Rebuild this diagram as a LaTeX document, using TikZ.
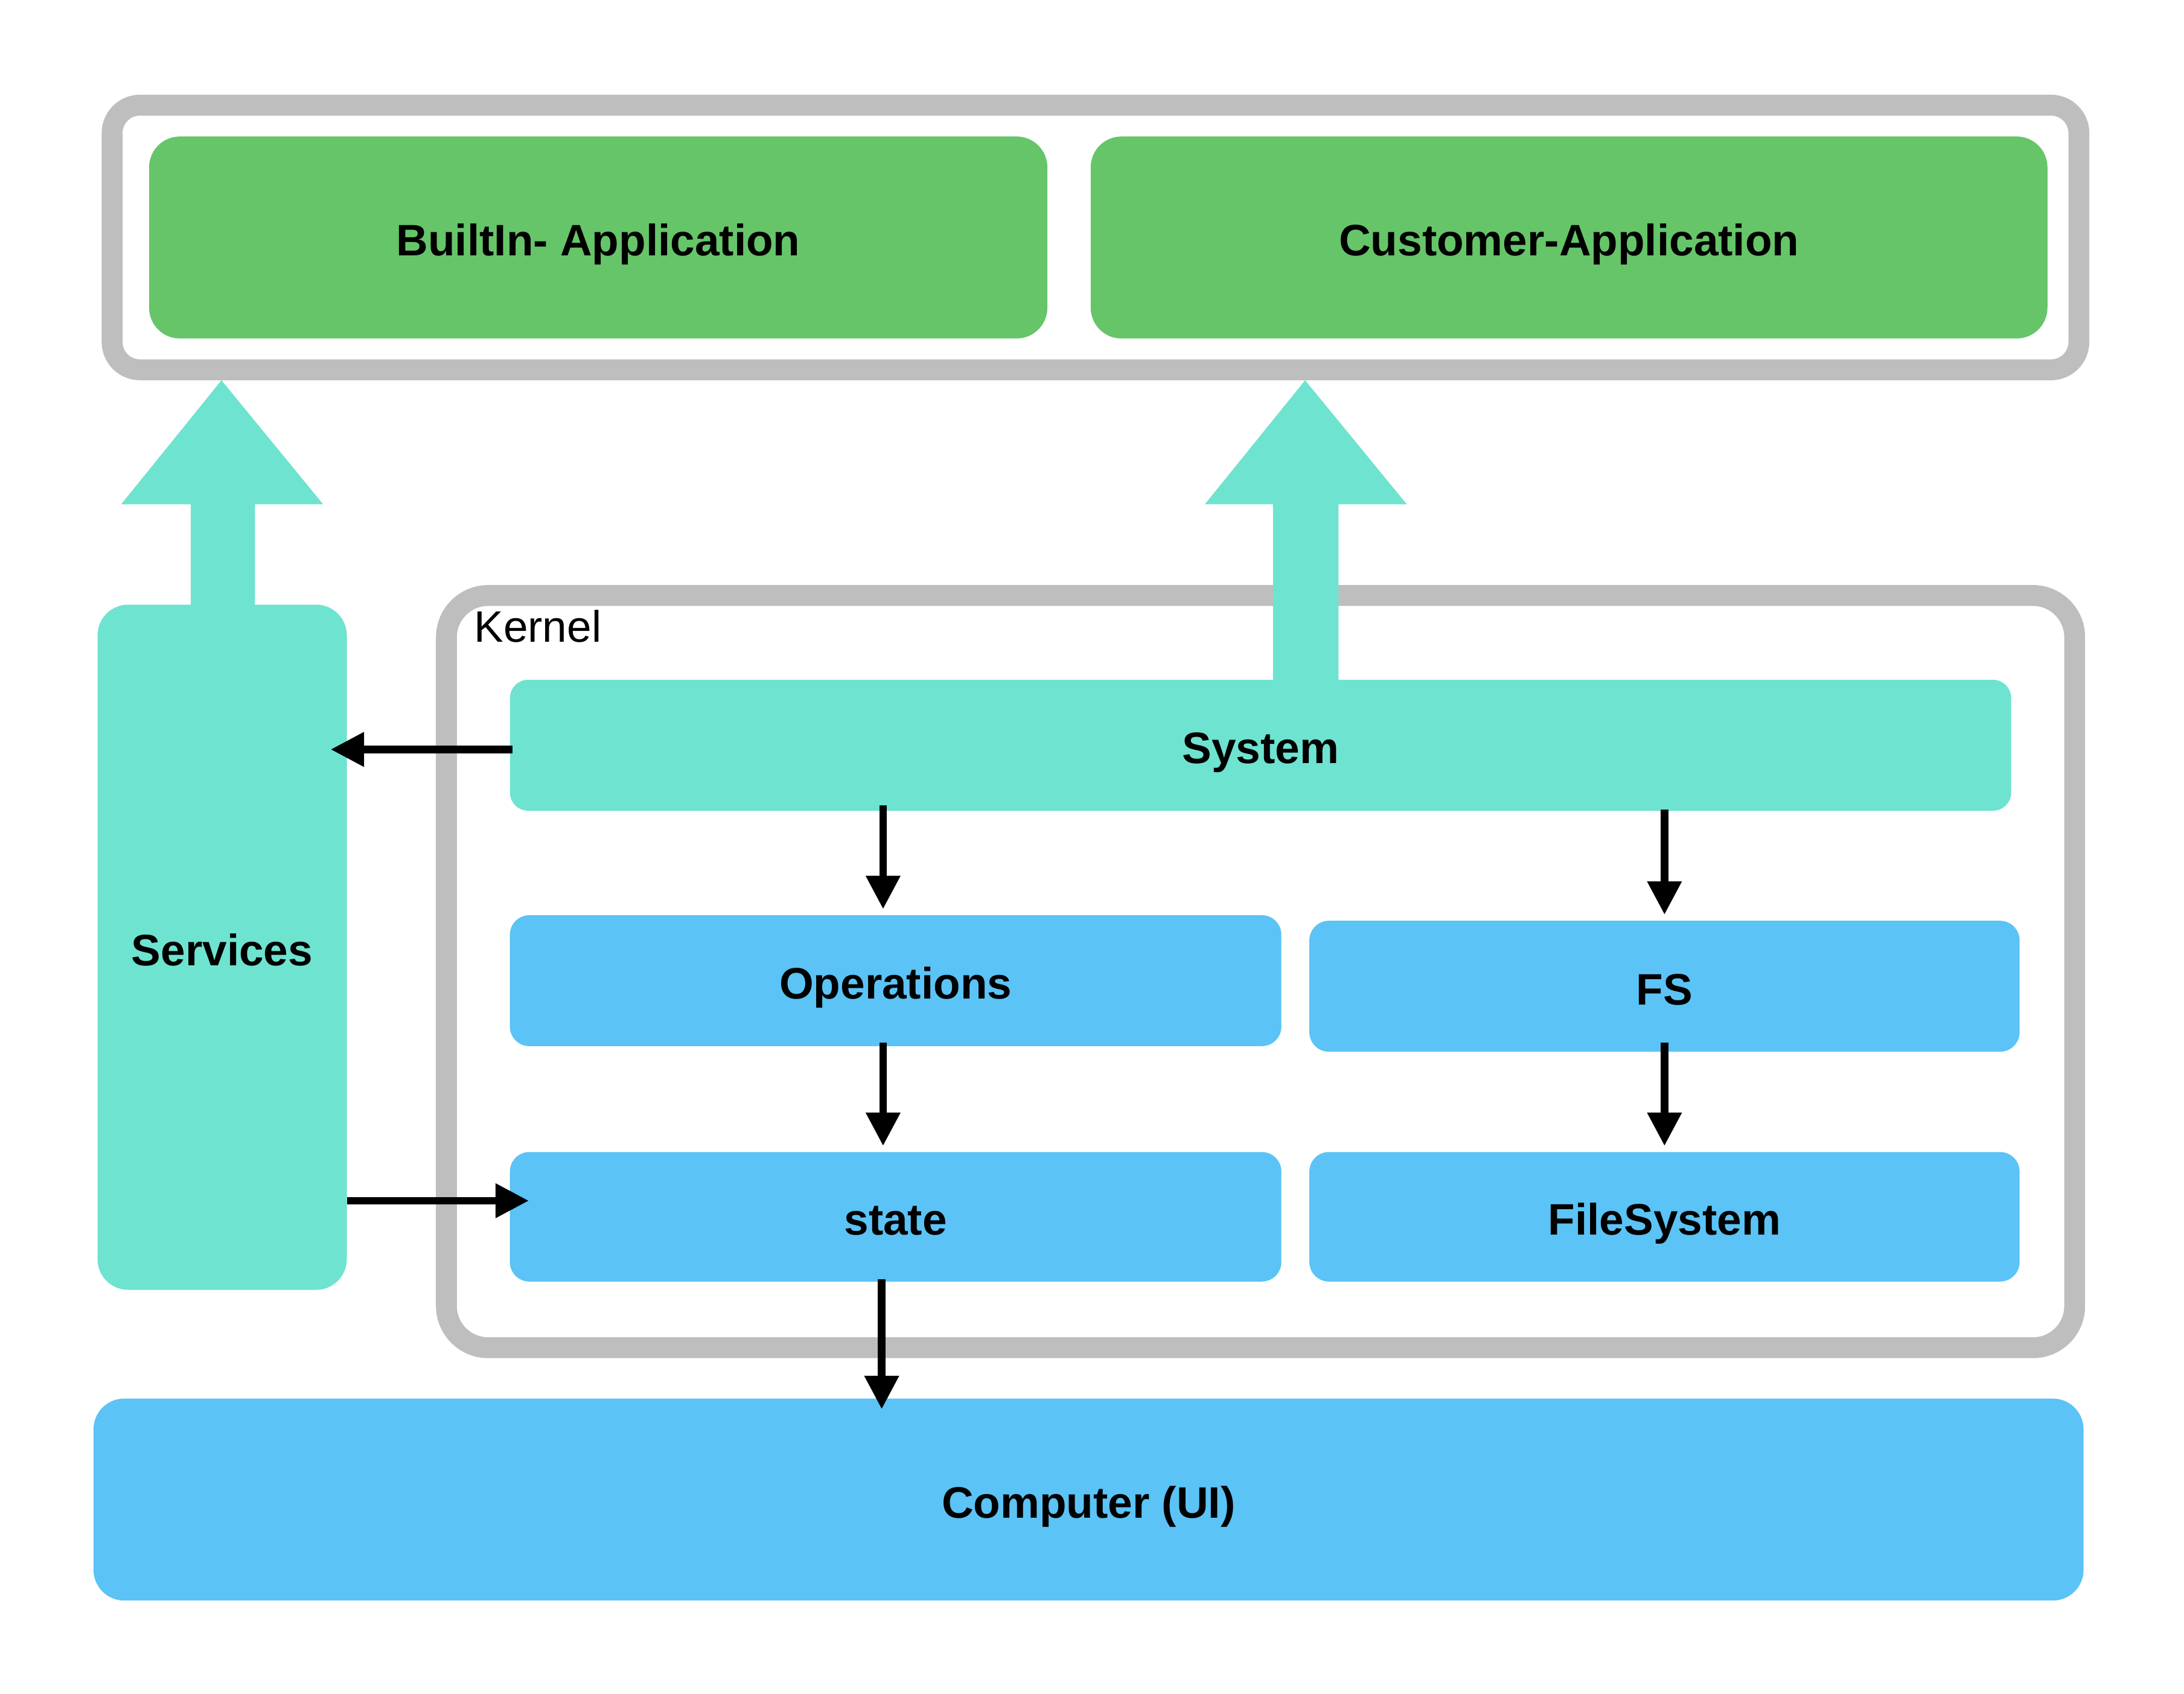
\documentclass[tikz,border=0pt]{standalone}
\usepackage{fontspec}
\setmainfont{Liberation Sans}
\usetikzlibrary{arrows.meta}
\definecolor{appgreen}{RGB}{102,197,105}
\definecolor{teal}{RGB}{110,227,208}
\definecolor{skyblue}{RGB}{91,195,245}
\definecolor{frame}{RGB}{190,190,190}
\begin{document}
\begin{tikzpicture}[x=0.02cm,y=-0.02cm,
  box/.style={rectangle,inner sep=0pt,text height=15pt,text depth=0pt,font=\fontsize{18}{20}\selectfont\bfseries},
  appbox/.style={box,fill=appgreen,rounded corners=0.44cm},
  tealbox/.style={box,fill=teal},
  bluebox/.style={box,fill=skyblue,rounded corners=0.28cm},
  container/.style={draw=frame,line width=0.3cm},
  arr/.style={draw=black,line width=0.11cm,-{Triangle[length=0.48cm,width=0.47cm]}},
  bigarrow/.style={fill=teal}]
\useasboundingbox (0,0) rectangle (1568,1216);
% containers
\draw[container,rounded corners=0.4cm] (80.5,75.5) rectangle (1492.5,265.5);
\draw[container,rounded corners=0.6cm] (320.5,427.5) rectangle (1489.5,967.5);
\node[anchor=base west,inner sep=0pt,font=\fontsize{18}{20}\selectfont] (kernel) at (340,461) {Kernel};
% block arrows
\fill[bigarrow] (87,362) -- (159,273) -- (232,362) -- (183,362) -- (183,436) -- (137,436) -- (137,362) -- cycle;
\fill[bigarrow] (865,362) -- (937,273) -- (1010,362) -- (961,362) -- (961,491) -- (914,491) -- (914,362) -- cycle;
% boxes
\node[appbox,minimum width=12.9cm,minimum height=2.9cm] (builtin) at (429.5,170.5) {BuiltIn- Application};
\node[appbox,minimum width=13.74cm,minimum height=2.9cm] (customer) at (1126.5,170.5) {Customer-Application};
\node[tealbox,rounded corners=0.44cm,minimum width=3.58cm,minimum height=9.84cm] (services) at (159.5,680) {Services};
\node[tealbox,rounded corners=0.26cm,minimum width=21.56cm,minimum height=1.88cm] (system) at (905,535) {System};
\node[bluebox,minimum width=11.08cm,minimum height=1.88cm] (ops) at (643,704) {Operations};
\node[bluebox,minimum width=10.2cm,minimum height=1.88cm] (fs) at (1195,708) {FS};
\node[bluebox,minimum width=11.08cm,minimum height=1.86cm] (state) at (643,873.5) {state};
\node[bluebox,minimum width=10.2cm,minimum height=1.86cm] (filesystem) at (1195,873.5) {FileSystem};
\node[bluebox,rounded corners=0.44cm,minimum width=28.58cm,minimum height=2.9cm] (computer) at (781.5,1076.5) {Computer (UI)};
% connectors
\draw[arr,shorten <=-0.04cm,shorten >=-0.24cm] ([yshift=-0.06cm]system.west) -- ([yshift=-0.06cm]system.west -| services.east);
\draw[arr,shorten >=-0.28cm] ([yshift=-3.64cm]services.east) -- ([yshift=-3.64cm]services.east -| state.west);
\draw[arr,shorten <=-0.08cm,shorten >=0.08cm] ([xshift=-0.18cm]ops.north |- system.south) -- ([xshift=-0.18cm]ops.north);
\draw[arr,shorten <=-0.02cm,shorten >=0.08cm] (fs.north |- system.south) -- (fs.north);
\draw[arr,shorten <=-0.06cm,shorten >=0.08cm] ([xshift=-0.18cm]ops.south) -- ([xshift=-0.18cm]ops.south |- state.north);
\draw[arr,shorten <=-0.14cm,shorten >=0.08cm] (fs.south) -- (fs.south |- filesystem.north);
\draw[arr,shorten <=-0.04cm,shorten >=-0.16cm] ([xshift=-0.2cm]state.south) -- ([xshift=-0.2cm]state.south |- computer.north);
\end{tikzpicture}
\end{document}
